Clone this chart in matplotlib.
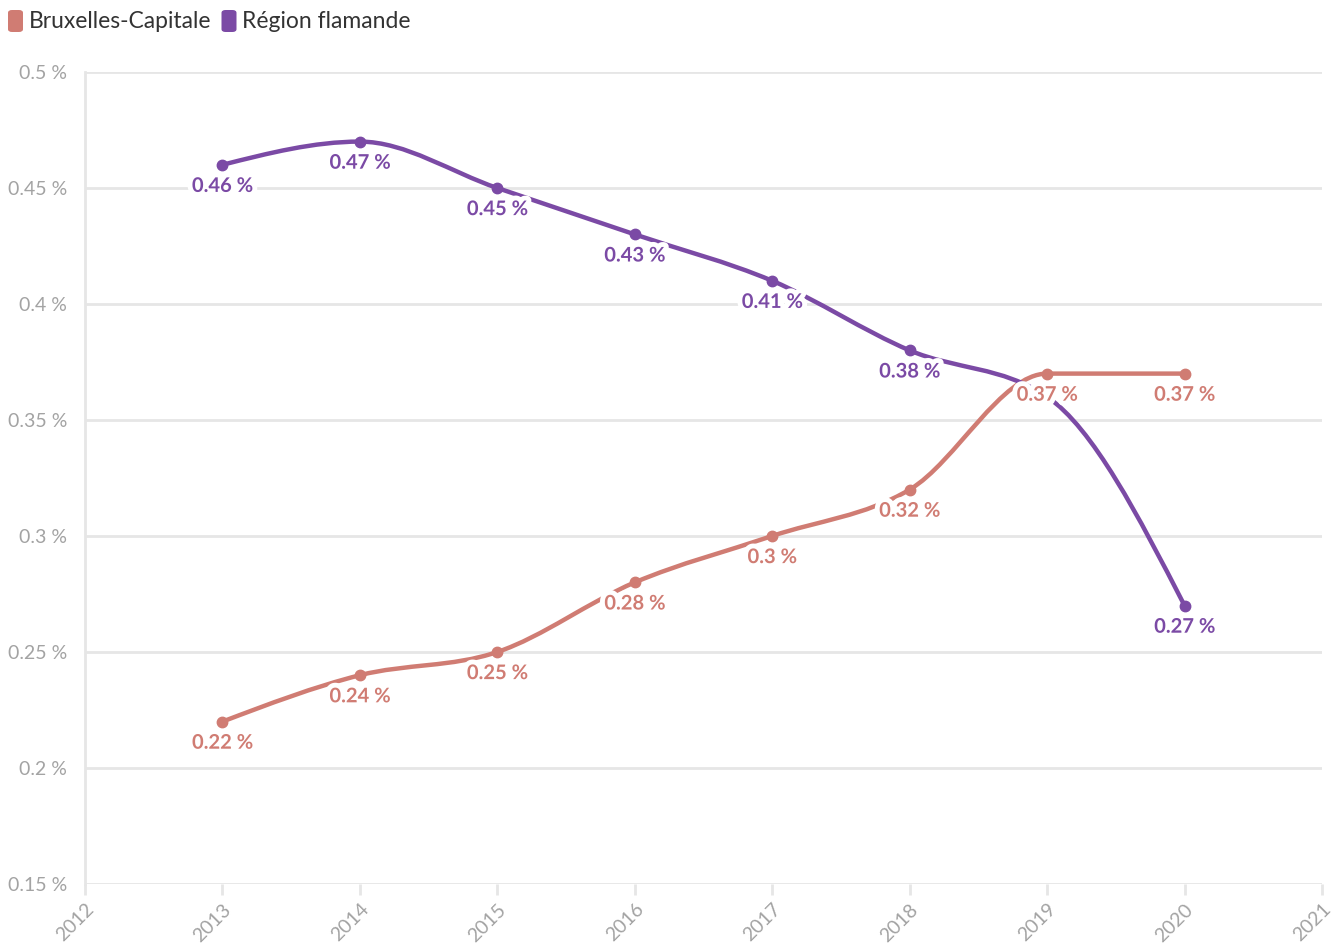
import matplotlib.pyplot as plt
import matplotlib.patheffects as pe
from matplotlib.path import Path
from matplotlib.patches import PathPatch, FancyBboxPatch
import numpy as np

plt.rcParams['font.family'] = ['Lato', 'DejaVu Sans']

years = [2013, 2014, 2015, 2016, 2017, 2018, 2019, 2020]
bruxelles = [0.22, 0.24, 0.25, 0.28, 0.30, 0.32, 0.37, 0.37]
flamande = [0.46, 0.47, 0.45, 0.43, 0.41, 0.38, 0.36, 0.27]
series_names = ['Bruxelles-Capitale', 'Région flamande']
colors = ['#d07c73', '#7b4aa5']
yticks = [0.15, 0.2, 0.25, 0.3, 0.35, 0.4, 0.45, 0.5]
xticks = list(range(2012, 2022))


def monotone_path(x, y):
    # d3 curveMonotoneX as bezier segments
    x = np.asarray(x, float)
    y = np.asarray(y, float)
    n = len(x)
    h = np.diff(x)
    s = np.diff(y) / h
    t = np.zeros(n)
    for i in range(1, n - 1):
        p = (s[i - 1] * h[i] + s[i] * h[i - 1]) / (h[i - 1] + h[i])
        t[i] = (np.sign(s[i - 1]) + np.sign(s[i])) * min(abs(s[i - 1]), abs(s[i]), 0.5 * abs(p))
    t[0] = (3 * s[0] - t[1]) / 2
    t[-1] = (3 * s[-1] - t[-2]) / 2
    verts = [(x[0], y[0])]
    codes = [Path.MOVETO]
    for i in range(n - 1):
        dx = h[i] / 3
        verts += [(x[i] + dx, y[i] + dx * t[i]), (x[i + 1] - dx, y[i + 1] - dx * t[i + 1]), (x[i + 1], y[i + 1])]
        codes += [Path.CURVE4] * 3
    return Path(verts, codes)


fig = plt.figure(figsize=(13.42, 9.44), dpi=100)
ax = fig.add_axes([85 / 1342, 1 - 884 / 944, (1322 - 85) / 1342, (884 - 72) / 944])

ax.set_xlim(2012, 2021)
ax.set_ylim(0.15, 0.5)
ax.set_yticks(yticks)
ax.set_yticklabels([('%g' % v) + ' %' for v in yticks])
ax.set_xticks(xticks)
ax.set_xticklabels([str(v) for v in xticks], rotation=45, ha='right', va='top', rotation_mode='anchor')
ax.grid(axis='y', color='#e6e6e6', linewidth=2)
ax.set_axisbelow(True)
for sp in ['top', 'right', 'bottom']:
    ax.spines[sp].set_visible(False)
ax.spines['left'].set_color('#e6e6e6')
ax.spines['left'].set_linewidth(2)
ax.tick_params(axis='y', length=0, pad=13, labelsize=14, labelcolor='#a3a3a3')
ax.tick_params(axis='x', length=8, width=2, color='#e6e6e6', pad=4, labelsize=14, labelcolor='#a3a3a3')

for vals, col in zip([bruxelles, flamande], colors):
    ax.add_patch(PathPatch(monotone_path(years, vals), fill=False, edgecolor=col, linewidth=3.2, capstyle='round', zorder=3))
    ax.plot(years, vals, 'o', color=col, markersize=7.5, zorder=4)

# labels; the second series label is dropped where it would collide
for k, (vals, col) in enumerate(zip([bruxelles, flamande], colors)):
    for i, (x, v) in enumerate(zip(years, vals)):
        if k == 1 and abs(v - bruxelles[i]) < 0.02:
            continue
        ax.annotate(('%g' % v) + ' %', (x, v), xytext=(0, -8), textcoords='offset points',
                    ha='center', va='top', fontsize=14.5, fontweight='bold', color=col, zorder=5,
                    path_effects=[pe.withStroke(linewidth=7, foreground='white')])

# legend
xpos = 8
for name, col in zip(series_names, colors):
    fig.patches.append(FancyBboxPatch((xpos / 1342, 1 - 32 / 944), 15 / 1342, 22 / 944,
                                      boxstyle='round,pad=0,rounding_size=0.003', transform=fig.transFigure,
                                      facecolor=col, edgecolor='none'))
    t = fig.text((xpos + 21) / 1342, 1 - 21 / 944, name, fontsize=16.5, color='#333333', va='center', ha='left')
    fig.canvas.draw()
    bb = t.get_window_extent()
    xpos = bb.x1 + 10

fig.savefig('out.png', dpi=100)
